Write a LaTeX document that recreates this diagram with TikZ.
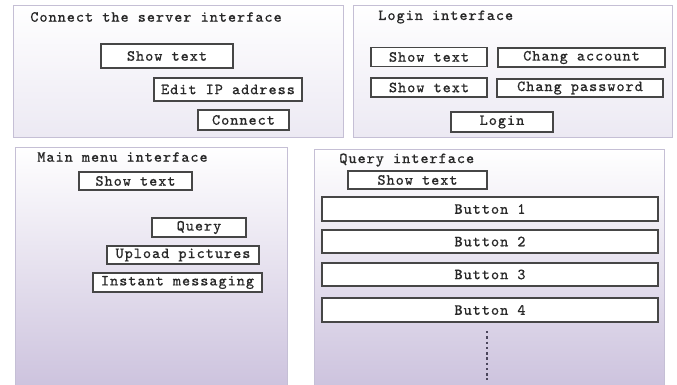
\documentclass[tikz,border=0pt]{standalone}
\usepackage{fontspec}
\newfontfamily\uimono{Latin Modern Mono}[LetterSpace=6.5, FakeBold=0.4]
\usetikzlibrary{positioning}
\definecolor{uiframe}{RGB}{197,191,213}
\definecolor{uilight}{RGB}{236,233,243}
\definecolor{uililac}{RGB}{205,195,222}
\definecolor{uiborder}{RGB}{70,70,70}
\definecolor{uitext}{RGB}{40,40,40}
\definecolor{uidots}{RGB}{75,70,92}
\newcommand{\uifont}{\uimono\fontsize{8.8}{10}\selectfont}
\tikzstyle{panel} = [draw=uiframe, line width=0.5pt]
\tikzstyle{uibutton} = [rectangle, draw=uiborder, fill=white, line width=0.8pt, inner sep=0pt, outer sep=0pt, text centered, text=uitext, font=\uifont]
\tikzstyle{uititle} = [anchor=west, inner sep=0pt, text=uitext, font=\uifont]
\tikzstyle{dots} = [line width=1.4pt, dash pattern=on 1.4pt off 1.6pt, color=uidots]

\begin{document}
\begin{tikzpicture}[x=0.02cm, y=-0.02cm]
\useasboundingbox (0,0) rectangle (677,385);

% panels
\shade[panel, top color=white, bottom color=uilight] (13,5) rectangle (343,137);
\shade[panel, top color=white, bottom color=uilight] (353,5) rectangle (672,137);
\shade[panel, top color=white, bottom color=uililac] (15,147) rectangle (287,386);
\shade[panel, top color=white, bottom color=uililac] (314,149) rectangle (664,386);

% connect the server interface
\node[uititle] (srvtitle) at (30,17) {Connect the server interface};
\node[uibutton, minimum width=2.64cm, minimum height=0.48cm] (srvshow) at (167,56) {Show text};
\node[uibutton, minimum width=2.96cm, minimum height=0.46cm] (srvip) at (228,89.5) {Edit IP address};
\node[uibutton, minimum width=1.82cm, minimum height=0.40cm] (srvconnect) at (243.5,120) {Connect};

% login interface
\node[uititle] (logintitle) at (378,17) {Login interface};
\node[uibutton, minimum width=2.32cm, minimum height=0.38cm] (loginshowa) at (429,57) {Show text};
\node[uibutton, minimum width=3.34cm, minimum height=0.38cm] (account) at (581.5,57.5) {Chang account};
\node[uibutton, minimum width=2.32cm, minimum height=0.38cm] (loginshowb) at (429,87.5) {Show text};
\node[uibutton, minimum width=3.32cm, minimum height=0.36cm] (password) at (580,88) {Chang password};
\node[uibutton, minimum width=2.04cm, minimum height=0.40cm] (login) at (502,122) {Login};

% main menu interface
\node[uititle] (menutitle) at (37,157) {Main menu interface};
\node[uibutton, minimum width=2.26cm, minimum height=0.36cm] (menushow) at (135.5,181) {Show text};
\node[uibutton, minimum width=1.88cm, minimum height=0.38cm] (query) at (199,227.5) {Query};
\node[uibutton, minimum width=3.04cm, minimum height=0.36cm] (upload) at (183,255) {Upload pictures};
\node[uibutton, minimum width=3.38cm, minimum height=0.38cm] (instant) at (177.5,282.5) {Instant messaging};

% query interface
\node[uititle] (querytitle) at (339,160) {Query interface};
\node[uibutton, minimum width=2.78cm, minimum height=0.36cm] (queryshow) at (417.5,180) {Show text};
\node[uibutton, minimum width=6.72cm, minimum height=0.48cm] (b1) at (490,209) {Button 1};
\node[uibutton, minimum width=6.72cm, minimum height=0.46cm, below=0.18cm of b1] (b2) {Button 2};
\node[uibutton, minimum width=6.72cm, minimum height=0.46cm, below=0.20cm of b2] (b3) {Button 3};
\node[uibutton, minimum width=6.72cm, minimum height=0.48cm, below=0.24cm of b3] (b4) {Button 4};

\coordinate (dotstop) at (487,331);
\coordinate (dotsbot) at (487,380);
\draw[dots] (dotstop) -- (dotsbot);
\end{tikzpicture}
\end{document}
